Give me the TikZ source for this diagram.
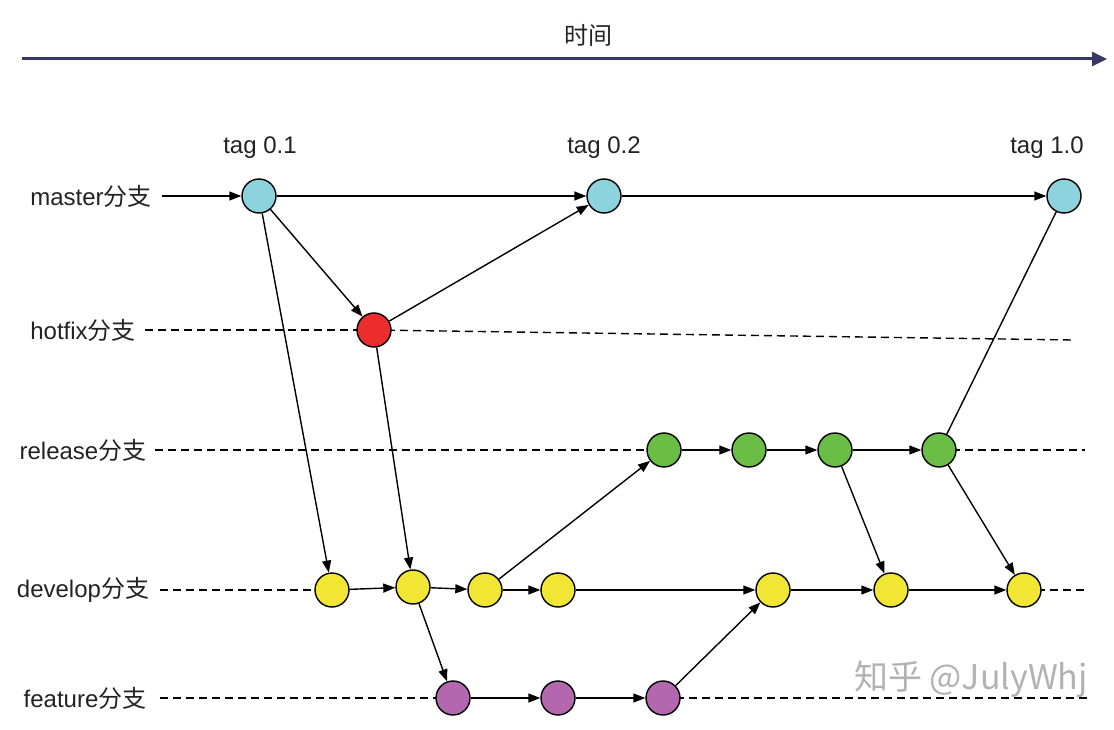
\documentclass[tikz,border=0pt]{standalone}
\usepackage{fontspec}
\setmainfont{Liberation Sans}
\newfontfamily\cjk{Noto Sans CJK SC}
\usetikzlibrary{arrows.meta}
\definecolor{mcyan}{HTML}{8CD3DD}
\definecolor{mred}{HTML}{EC2D2D}
\definecolor{mgreen}{HTML}{6ABD45}
\definecolor{myellow}{HTML}{F1E633}
\definecolor{mpurple}{HTML}{B267AE}
\definecolor{mnavy}{HTML}{383866}
\definecolor{mtext}{HTML}{222222}
\tikzset{
  commit/.style={circle,draw=black,line width=1.4pt,minimum size=34pt,inner sep=0pt},
  mnode/.style={commit,fill=mcyan},
  hnode/.style={commit,fill=mred},
  rnode/.style={commit,fill=mgreen},
  dnode/.style={commit,fill=myellow},
  fnode/.style={commit,fill=mpurple},
  conn/.style={line width=1.4pt,-{Triangle[length=12pt,width=9pt]}},
  plain/.style={line width=1.4pt},
  dash line/.style={line width=1.4pt,dash pattern=on 8pt off 5pt},
  lbl/.style={font=\fontsize{24}{28}\selectfont,text=mtext,inner sep=0pt},
}
\begin{document}
\begin{tikzpicture}[x=1pt,y=-1pt]
\useasboundingbox (0,0) rectangle (1114,730);
% time axis
\coordinate (t0) at (22,59);
\coordinate (t1) at (1107,59);
\draw[mnavy,line width=3pt,-{Triangle[length=15pt,width=14pt]}] (t0) -- (t1);
\node[lbl] (time) at (588,35) {\cjk 时间};
% labels
\node[lbl] (lm) at (91,196) {master\cjk 分支};
\node[lbl] (lh) at (83,330) {hotfix\cjk 分支};
\node[lbl] (lr) at (83,450) {release\cjk 分支};
\node[lbl] (ld) at (83,590) {develop\cjk 分支};
\node[lbl] (lf) at (85,698) {feature\cjk 分支};
\node[lbl] (t01) at (260,148) {tag 0.1};
\node[lbl] (t02) at (604,148) {tag 0.2};
\node[lbl] (t10) at (1047,148) {tag 1.0};
% dashed branch lines (drawn first, under commits)
\coordinate (hs) at (145,330);
\coordinate (he) at (1072,340);
\coordinate (rs) at (155,450);
\coordinate (re) at (1085,450);
\coordinate (ds) at (160,590);
\coordinate (de) at (1085,590);
\coordinate (fs) at (160,698);
\coordinate (fe) at (1090,698);
\coordinate (ms) at (162,196);
\coordinate (hc) at (374,330);
\coordinate (r1c) at (664,450);
\coordinate (r4c) at (939,450);
\coordinate (d1c) at (332,590);
\coordinate (d7c) at (1024,590);
\coordinate (f1c) at (453,698);
\coordinate (f3c) at (663,698);
\draw[dash line] (hs) -- (hc);
\draw[dash line] (hc) -- (he);
\draw[dash line] (rs) -- (r1c);
\draw[dash line] (r4c) -- (re);
\draw[dash line] (ds) -- (d1c);
\draw[dash line] (d7c) -- (de);
\draw[dash line] (fs) -- (f1c);
\draw[dash line] (f3c) -- (fe);
% commits
\node[mnode] (m1) at (259,196) {};
\node[mnode] (m2) at (604,196) {};
\node[mnode] (m3) at (1064,196) {};
\node[hnode] (h) at (hc) {};
\node[rnode] (r1) at (r1c) {};
\node[rnode] (r2) at (749,450) {};
\node[rnode] (r3) at (835,450) {};
\node[rnode] (r4) at (r4c) {};
\node[dnode] (d1) at (d1c) {};
\node[dnode] (d2) at (413,587) {};
\node[dnode] (d3) at (485,590) {};
\node[dnode] (d4) at (558,590) {};
\node[dnode] (d5) at (773,590) {};
\node[dnode] (d6) at (891,590) {};
\node[dnode] (d7) at (d7c) {};
\node[fnode] (f1) at (f1c) {};
\node[fnode] (f2) at (558,698) {};
\node[fnode] (f3) at (f3c) {};
% connectors
\draw[conn] (ms) -- (m1);
\draw[conn] (m1) -- (m2);
\draw[conn] (m2) -- (m3);
\draw[conn] (m1) -- (h);
\draw[conn] (h) -- (m2);
\draw[conn] (m1) -- (d1);
\draw[conn] (h) -- (d2);
\draw[conn] (d1) -- (d2);
\draw[conn] (d2) -- (d3);
\draw[conn] (d3) -- (d4);
\draw[conn] (d4) -- (d5);
\draw[conn] (d5) -- (d6);
\draw[conn] (d6) -- (d7);
\draw[conn] (d3) -- (r1);
\draw[conn] (r1) -- (r2);
\draw[conn] (r2) -- (r3);
\draw[conn] (r3) -- (r4);
\draw[conn] (r3) -- (d6);
\draw[conn] (r4) -- (d7);
\draw[plain] (r4) -- (m3);
\draw[conn] (d2) -- (f1);
\draw[conn] (f1) -- (f2);
\draw[conn] (f2) -- (f3);
\draw[conn] (f3) -- (d5);
% watermark
\node[font=\fontsize{34}{38}\selectfont,text=black!30,inner sep=0pt] (wm) at (971,679) {\cjk 知乎 @JulyWhj};
\end{tikzpicture}
\end{document}
